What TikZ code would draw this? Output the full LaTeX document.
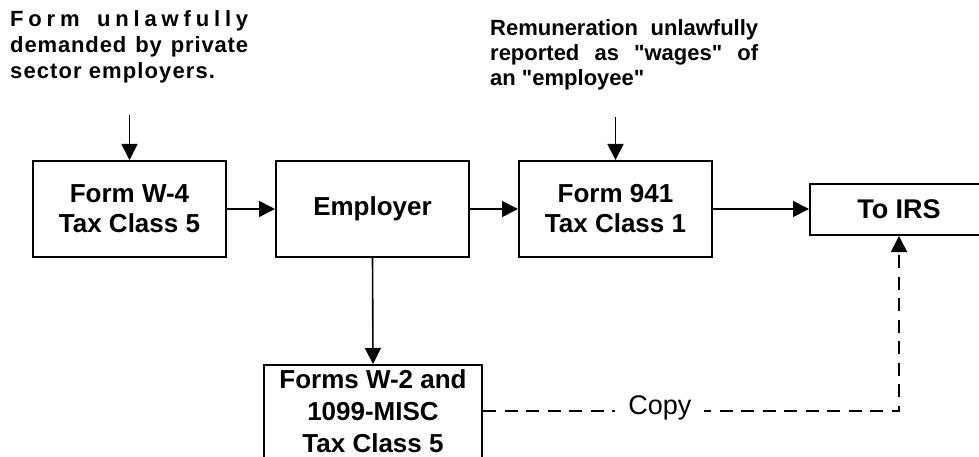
\documentclass[tikz,border=0pt]{standalone}
\usepackage{fontspec}
\setmainfont{Liberation Sans}
\newfontfamily\arialq{Liberation Sans}
\usetikzlibrary{arrows.meta}
\begin{document}
\begin{tikzpicture}[x=1pt,y=-1pt,
  box/.style={draw, line width=2pt, minimum width=193pt, minimum height=96pt, inner sep=0pt, align=center, font=\fontsize{26}{30}\selectfont\bfseries},
  arr/.style={line width=1.6pt, -{Triangle[length=16pt,width=16pt]}},
  dsh/.style={line width=1.6pt, dash pattern=on 13pt off 8.5pt},
  lbl/.style={anchor=base west, inner sep=0pt, font=\fontsize{22}{26}\selectfont\bfseries},
  rlbl/.style={anchor=base west, inner sep=0pt, font=\arialq\fontsize{22}{25}\selectfont\bfseries}]
\useasboundingbox (0,0) rectangle (979,457);
\clip (0,0) rectangle (979,457);
\fill[white] (0,0) rectangle (979,457);

% top-left note
\node[lbl] (l1) at (10,27) {\addfontfeature{LetterSpace=22}\makebox[238pt][s]{Form unlawfully}};
\node[lbl] (l2) at (10,53) {\addfontfeature{LetterSpace=4}\makebox[238pt][s]{demanded by private}};
\node[lbl] (l3) at (10,79) {\addfontfeature{LetterSpace=5}sector employers.};

% top-right note
\node[rlbl] (r1) at (490,36) {\makebox[268pt][s]{Remuneration unlawfully}};
\node[rlbl] (r2) at (490,61) {\makebox[268pt][s]{reported as "wages" of}};
\node[rlbl] (r3) at (490,86) {an "employee"};

% boxes
\node[box] (w4) at (129.5,209) {Form W-4\\Tax Class 5};
\node[box] (emp) at (372.5,209) {Employer};
\node[box] (f941) at (615.5,209) {Form 941\\Tax Class 1};
\node[box, minimum width=178pt, minimum height=51pt, font=\fontsize{27}{30}\selectfont\bfseries] (irs) at (899,209.5) {To IRS};
\node[draw, line width=2pt, minimum width=218pt, minimum height=110pt, inner sep=0pt] (w2) at (373,420) {};
\node[anchor=north, inner sep=0pt, align=center, font=\fontsize{26}{32}\selectfont\bfseries] (w2t) at (373,369) {Forms W-2 and\\1099-MISC\\Tax Class 5};

% connectors
\coordinate (a1) at (129.5,115);
\coordinate (a2) at (615.5,117);
\draw[arr] (a1) -- (w4.north);
\draw[arr] (a2) -- (f941.north);
\draw[arr] (w4) -- (emp);
\draw[arr] (emp) -- (f941);
\draw[arr] (f941.east) -- (f941.east -| irs.west);
\draw[arr] (emp.south) -- (w2.north);
\coordinate (d0) at ([yshift=-47pt]w2.north east);
\draw[dsh, -{Triangle[length=16pt,width=16pt]}] (d0) -- node[pos=0.425, anchor=base, yshift=-3pt, fill=white, inner xsep=13pt, inner ysep=2pt, font=\fontsize{27}{30}\selectfont] (cp) {Copy} (d0 -| irs.south) -- (irs.south);
\end{tikzpicture}
\end{document}
